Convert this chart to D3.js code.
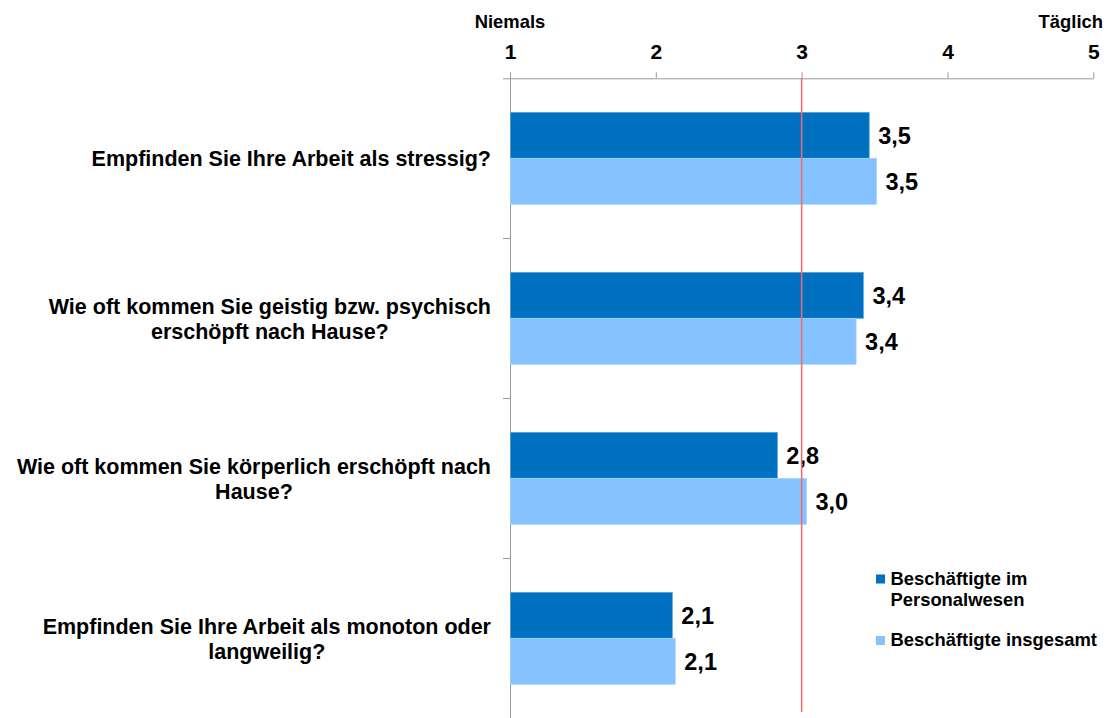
<!DOCTYPE html>
<html><head><meta charset="utf-8">
<script src="https://cdn.jsdelivr.net/npm/d3@7"></script>
<style>body{margin:0;background:#fff}svg{display:block;font-family:"Liberation Sans",Arial,sans-serif}</style>
</head><body><svg id="c" width="1108" height="718"></svg>
<script>
const categories = [
  ["Empfinden Sie Ihre Arbeit als stressig?"],
  ["Wie oft kommen Sie geistig bzw. psychisch", "erschöpft nach Hause?"],
  ["Wie oft kommen Sie körperlich erschöpft nach", "Hause?"],
  ["Empfinden Sie Ihre Arbeit als monoton oder", "langweilig?"]
];
const seriesNames = [["Beschäftigte im", "Personalwesen"], ["Beschäftigte insgesamt"]];
const personalwesen = [3.46, 3.42, 2.83, 2.11];
const insgesamt = [3.51, 3.37, 3.03, 2.13];
const valueLabels = [["3,5","3,5"],["3,4","3,4"],["2,8","3,0"],["2,1","2,1"]];
const ticks = [1,2,3,4,5];
const scaleEnds = ["Niemals", "Täglich"];
const referenceValue = 3;
const colors = ["#0070C0", "#85C2FF"];

const svg = d3.select("#c");
const x = d3.scaleLinear().domain([1,5]).range([510, 1093.3]);
const y = d3.scaleBand().domain(d3.range(categories.length)).range([78.3, 718.3]).paddingInner(0).paddingOuter(0);
const bandH = y.bandwidth();
const barH = 46;
const off = (bandH - 2*barH)/2;

// axis top
const ax = svg.append("g").attr("transform","translate(0,78.3)")
  .call(d3.axisTop(x).tickValues(ticks).tickSize(6).tickFormat(d3.format("d")));
ax.select(".domain").attr("stroke","#999").attr("d","M503,0.5H1093.8");
ax.selectAll(".tick line").attr("stroke","#999");
ax.selectAll(".tick text").attr("font-size","21px").attr("font-weight","bold").attr("fill","#000").attr("dy","0").attr("y",-19.5);

svg.append("text").attr("x",x(1)).attr("y",28).attr("text-anchor","middle").attr("font-size","18.4px").attr("font-weight","bold").text(scaleEnds[0]);
svg.append("text").attr("x",1103).attr("y",28).attr("text-anchor","end").attr("font-size","18.4px").attr("font-weight","bold").text(scaleEnds[1]);

// y axis
svg.append("line").attr("x1",510.5).attr("x2",510.5).attr("y1",78.3).attr("y2",718).attr("stroke","#999");
y.domain().forEach(i=>{
  const yy = Math.round(y(i)+bandH)+0.5;
  svg.append("line").attr("x1",503).attr("x2",510).attr("y1",yy).attr("y2",yy).attr("stroke","#999");
});

const data = [personalwesen, insgesamt];
data.forEach((vals, s)=>{
  svg.append("g").selectAll("rect").data(vals).join("rect")
    .attr("x", x(1)+0.5)
    .attr("y", (d,i)=> y(i)+off + s*barH)
    .attr("width", d=> x(d)-x(1))
    .attr("height", barH)
    .attr("fill", colors[s])
    .attr("stroke", s===0 ? "#5aa6e0" : "#a8d4ff").attr("stroke-width",0.7);
  svg.append("g").selectAll("text").data(vals).join("text")
    .attr("x", d=> x(d)+9.5)
    .attr("y", (d,i)=> y(i)+off + s*barH + barH/2)
    .attr("dy","0.36em")
    .attr("font-size","23.5px").attr("font-weight","bold")
    .text((d,i)=> valueLabels[i][s]);
});

// reference line
svg.append("line").attr("x1",x(referenceValue)).attr("x2",x(referenceValue)).attr("y1",78.3).attr("y2",712).attr("stroke","#F26A6A").attr("stroke-width",1.5);

// category labels (lines centred in block, block right-aligned)
categories.forEach((lines,i)=>{
  const cy = y(i)+bandH/2;
  const lh = 25;
  const t = svg.append("text").attr("text-anchor","middle").attr("font-size","21.5px").attr("font-weight","bold");
  const spans = lines.map((ln,k)=> t.append("tspan").attr("y", cy + (k-(lines.length-1)/2)*lh).attr("dy","0.36em").text(ln));
  const w = d3.max(spans, s=> s.node().getComputedTextLength());
  spans.forEach(s=> s.attr("x", 491 - w/2));
});

// legend
const legY = [584.5, 646];
seriesNames.forEach((lines,s)=>{
  svg.append("rect").attr("x",876).attr("y",legY[s]-10).attr("width",9).attr("height",9).attr("fill",colors[s]);
  const t = svg.append("text").attr("font-size","18.4px").attr("font-weight","bold");
  lines.forEach((ln,k)=>t.append("tspan").attr("x",890.5).attr("y",legY[s]+k*21).text(ln));
});
</script></body></html>
